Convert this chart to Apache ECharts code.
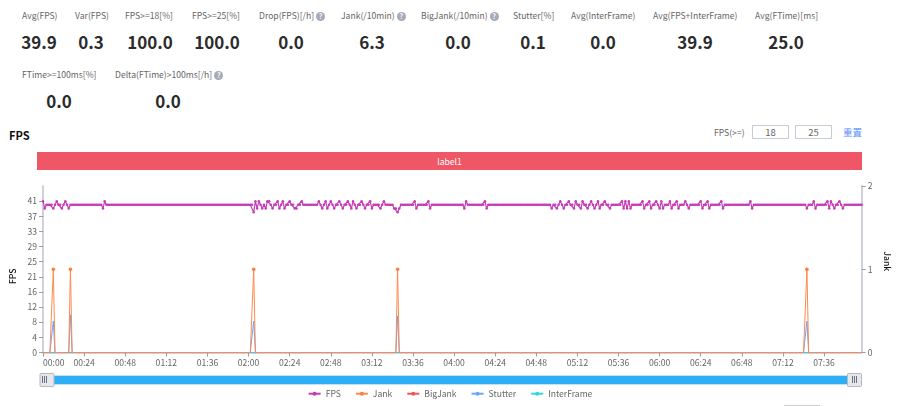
<!DOCTYPE html>
<html>
<head>
<meta charset="utf-8">
<title>FPS</title>
<script src="https://cdn.jsdelivr.net/npm/echarts@6/dist/echarts.min.js"></script>
<style>
html,body{margin:0;padding:0;background:#fff;overflow:hidden;}
body{width:900px;height:406px;position:relative;font-family:"Noto Sans CJK SC","Noto Sans",sans-serif;color:#666;}
#chart{position:absolute;left:0;top:0;width:900px;height:406px;}
.stat,.val,.abs{position:absolute;white-space:nowrap;}
.stat{font-size:8.6px;line-height:12px;color:#666;}
.val{font-size:17px;line-height:22px;font-weight:700;color:#2b2b2b;transform:translateX(-50%);}
.help{display:inline-block;width:9px;height:9px;line-height:9px;border-radius:50%;background:#a5aaba;color:#fff;font-size:7px;font-weight:700;text-align:center;margin-left:2px;vertical-align:0;}
.box{position:absolute;top:125px;height:12px;width:35px;border:1px solid #c8ccd6;font-size:9.5px;line-height:13px;text-align:center;color:#666;}
</style>
</head>
<body>
<div id="stats"></div>
<div class="abs" style="left:9px;top:127px;font-size:11px;line-height:16px;font-weight:700;color:#111;">FPS</div>
<div class="abs" style="left:714px;top:126px;font-size:8.6px;line-height:13px;">FPS(&gt;=)</div>
<div class="box" style="left:752px;">18</div>
<div class="box" style="left:795px;">25</div>
<div class="abs" style="left:843px;top:126px;font-size:9.5px;line-height:13px;color:#5b8cff;">重置</div>
<div class="abs" style="left:37px;top:152px;width:825px;height:18px;line-height:18px;background:#ef5666;color:#fff;font-size:8.6px;text-align:center;">label1</div>
<div class="abs" style="left:784px;top:405px;width:36px;height:1px;background:#ccc;"></div>
<div id="chart"></div>
<script>
// top row of numbers: [title, value, title left, value centre, top, has help icon]
var stats = [
	['Avg(FPS)','39.9',22,39,9,0],
	['Var(FPS)','0.3',75,91,9,0],
	['FPS>=18[%]','100.0',125,150,9,0],
	['FPS>=25[%]','100.0',192,217,9,0],
	['Drop(FPS)[/h]','0.0',259,291,9,1],
	['Jank(/10min)','6.3',341,372,9,1],
	['BigJank(/10min)','0.0',421,458,9,1],
	['Stutter[%]','0.1',513,533,9,0],
	['Avg(InterFrame)','0.0',571,603,9,0],
	['Avg(FPS+InterFrame)','39.9',653,695,9,0],
	['Avg(FTime)[ms]','25.0',755,786,9,0],
	['FTime>=100ms[%]','0.0',22,59,68,0],
	['Delta(FTime)>100ms[/h]','0.0',115,168,68,1]
];

var fpsValues = [
	41,39,40,40,40,40,39,40,41,40,40,39,40,41,40,39,40,40,40,40,
	40,40,40,40,40,40,40,40,40,40,40,40,40,40,40,39,41,40,40,40,
	40,40,40,40,40,40,40,40,40,40,40,40,40,40,40,40,40,40,40,40,
	40,40,40,40,40,40,40,40,40,40,40,40,40,40,40,40,40,40,40,40,
	40,40,40,40,40,40,40,40,40,40,40,40,40,40,40,40,40,40,40,40,
	40,40,40,40,40,40,40,40,40,40,40,40,40,40,40,40,40,40,40,40,
	40,40,40,38,41,39,41,40,39,40,39,41,41,40,39,40,40,41,39,40,
	41,39,40,40,41,40,40,39,39,40,40,41,40,40,40,40,40,40,40,40,
	40,41,40,39,40,41,39,40,41,40,39,40,40,41,40,39,40,40,41,40,
	39,41,40,39,40,40,41,40,39,40,40,41,39,40,40,40,40,39,40,41,
	40,40,40,40,40,39,39,38,39,40,40,40,40,40,40,40,40,41,39,40,
	40,40,40,40,40,41,39,40,40,40,40,40,40,40,40,40,40,40,40,40,
	40,40,40,40,40,40,39,41,40,40,40,40,40,40,40,40,40,40,41,39,
	40,40,40,40,40,40,40,40,40,40,40,40,40,40,40,40,40,40,40,40,
	40,40,40,40,40,40,40,40,40,40,40,40,40,40,40,40,40,39,40,40,
	39,40,41,40,39,40,40,41,40,40,39,41,40,40,39,41,40,40,39,40,
	41,40,39,40,41,39,40,40,41,40,40,39,40,40,40,40,40,40,41,39,
	41,39,41,39,40,40,40,40,40,40,41,39,40,40,41,39,40,40,41,40,
	39,41,39,40,40,40,41,39,40,40,41,39,40,40,40,41,40,39,40,40,
	40,40,40,40,41,39,40,40,41,39,40,40,40,40,40,40,41,39,40,40,
	40,40,40,40,40,40,40,40,40,40,40,40,40,41,39,40,40,40,40,40,
	40,40,40,40,40,40,40,40,40,40,40,40,40,40,40,40,40,40,40,40,
	40,40,40,40,40,40,39,40,40,40,41,39,40,40,40,40,40,40,41,39,
	41,40,39,40,40,41,40,39,40,40,40,40,40,40,40,40,40,40,40
];
// the spikes, minute index -> value. everything else sits on 0
var jankSpikes = {6:1,16:1,123:1,207:1,446:1};
var stutterSpikes = {6:8.5,16:10.2,123:8.5,207:9.9,446:8.5};
var fpsTicks = [0,4.1,8.2,12.3,16.4,20.5,24.6,28.7,32.8,36.9,41];
var legendNames = ['FPS','Jank','BigJank','Stutter','InterFrame'];

var minutes = [], jankValues = [], bigJankValues = [], stutterValues = [], interFrameValues = [];
for (var i = 0; i < fpsValues.length; i++) {
	var h = Math.floor(i / 60), m = i % 60;
	minutes.push((h < 10 ? '0' : '') + h + ':' + (m < 10 ? '0' : '') + m);
	jankValues.push(jankSpikes[i] || 0);
	stutterValues.push(stutterSpikes[i] || 0);
	bigJankValues.push(0);
	interFrameValues.push(0);
}

var html = '';
for (var s = 0; s < stats.length; s++) {
	var it = stats[s];
	var title = it[0].replace('>', '&gt;');
	html += '<div class="stat" style="left:' + it[2] + 'px;top:' + it[4] + 'px;">' + title +
		(it[5] ? '<span class="help">?</span>' : '') + '</div>';
	html += '<div class="val" style="left:' + it[3] + 'px;top:' + (it[4] + 22) + 'px;">' + it[1] + '</div>';
}
document.getElementById('stats').innerHTML = html;

function zeroLine(name, color, values, z){
	return {
		name: name, type: 'line', yAxisIndex: 0, data: values, symbol: 'none', z: z,
		lineStyle: {color: color, width: 1}, itemStyle: {color: color}, animation: false
	};
}

var gripColor = '#6b7080';
function grip(x){
	return {type: 'rect', shape: {x: x, y: 376, width: 1, height: 7}, style: {fill: gripColor}, z: 100, silent: true};
}

var fontName = '"Noto Sans CJK SC","Noto Sans",sans-serif';
var axisLine = {show: true, lineStyle: {color: '#cdd2dc', width: 2}};
var axisTick = {show: true, length: 4, lineStyle: {color: '#9a9fab', width: 1}};
var chart = echarts.init(document.getElementById('chart'));
chart.setOption({
	animation: false,
	textStyle: {fontFamily: fontName},
	grid: {left: 37, right: 38, top: 186, bottom: 53.5},
	legend: {
		data: legendNames, bottom: 3, left: 'center', itemWidth: 12, itemHeight: 5, itemGap: 14,
		textStyle: {fontSize: 8.6, color: '#666', fontFamily: fontName}
	},
	xAxis: {
		type: 'category', data: minutes, boundaryGap: false,
		axisLine: axisLine,
		axisTick: {show: true, length: 4, interval: 23, lineStyle: {color: '#9a9fab', width: 1}},
		axisLabel: {interval: 23, fontSize: 8.6, color: '#666', alignMinLabel: 'left', margin: 6}
	},
	yAxis: [{
		type: 'value', name: 'FPS', nameLocation: 'middle', nameGap: 25, nameRotate: 90,
		min: 0, max: 45.1, interval: 4.1,
		nameTextStyle: {fontSize: 8.6, color: '#111', fontWeight: 500, padding: [0, 14, 0, 0]},
		splitLine: {show: false},
		axisLine: axisLine,
		axisTick: {show: true, length: 4, customValues: fpsTicks, lineStyle: {color: '#9a9fab', width: 1}},
		axisLabel: {
			fontSize: 8.6, color: '#666', margin: 6, customValues: fpsTicks,
			formatter: function(v){ return Math.round(v) + ''; }
		}
	}, {
		type: 'value', name: 'Jank', nameLocation: 'middle', nameGap: 20, nameRotate: -90,
		min: 0, max: 2, interval: 1,
		nameTextStyle: {fontSize: 8.6, color: '#111', fontWeight: 500, padding: [0, 16, 0, 0]},
		splitLine: {show: false},
		axisLine: axisLine, axisTick: axisTick,
		axisLabel: {fontSize: 8.6, color: '#666', margin: 6}
	}],
	dataZoom: [{
		type: 'slider', xAxisIndex: 0, start: 0, end: 100,
		left: 44.5, right: 46, top: 375, height: 10,
		showDetail: false, showDataShadow: false, brushSelect: false, moveHandleSize: 0,
		borderColor: '#bfe3f8', backgroundColor: '#fff', fillerColor: '#2eaef5',
		handleIcon: 'path://M1,0H14Q15,0 15,1V13Q15,14 14,14H1Q0,14 0,13V1Q0,0 1,0Z',
		handleSize: '140%',
		handleStyle: {color: '#e6e7ea', borderColor: '#b4b7bd', borderWidth: 1, opacity: 1}
	}],
	graphic: [grip(42), grip(44), grip(46), grip(852), grip(854), grip(856)],
	series: [{
		name: 'FPS', type: 'line', yAxisIndex: 0, data: fpsValues, z: 5,
		symbol: 'circle', symbolSize: 2.5, showAllSymbol: true,
		lineStyle: {color: '#c63cb6', width: 1.2}, itemStyle: {color: '#c63cb6'}
	}, {
		name: 'Jank', type: 'line', yAxisIndex: 1, data: jankValues, z: 4,
		symbol: 'circle', showAllSymbol: true,
		symbolSize: function(v){ return v > 0 ? 3.5 : 0; },
		lineStyle: {color: '#ff8a50', width: 1}, itemStyle: {color: '#ff7a3c'}
	},
	zeroLine('BigJank', '#e85a5a', bigJankValues, 2),
	zeroLine('Stutter', '#6ea3f5', stutterValues, 3),
	zeroLine('InterFrame', '#33d6e6', interFrameValues, 2)
	]
});
</script>
</body>
</html>
